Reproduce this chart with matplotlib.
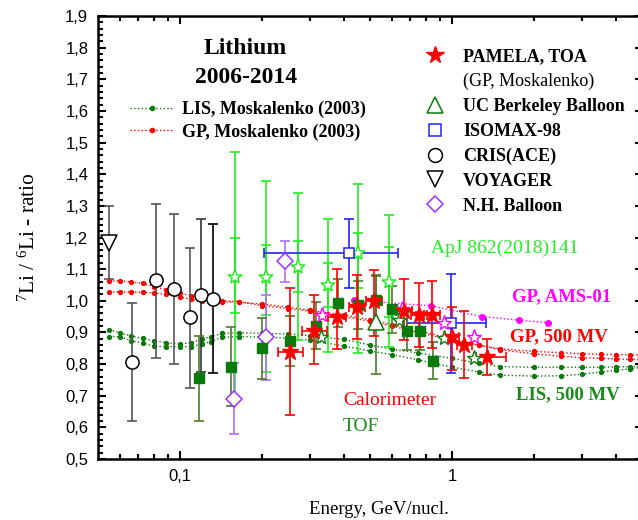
import matplotlib
matplotlib.use('Agg')
import matplotlib.pyplot as plt
from matplotlib.lines import Line2D
from matplotlib.ticker import FixedLocator, FuncFormatter, MultipleLocator, NullFormatter

plt.rcParams['font.family'] = ['Liberation Serif', 'DejaVu Serif']
plt.rcParams['mathtext.fontset'] = 'custom'
plt.rcParams['mathtext.rm'] = 'Liberation Serif'
plt.rcParams['mathtext.it'] = 'Liberation Serif:italic'

# --- model curves (Moskalenko 2003) ---
e_model = [0.055, 0.06, 0.066, 0.073, 0.08, 0.089, 0.1, 0.11, 0.12, 0.13, 0.143,
           0.165, 0.2, 0.25, 0.3, 0.4, 0.5, 0.6, 0.75, 1.0, 1.25, 1.5, 2.0, 2.5,
           3.0, 3.5, 4.0, 4.5, 5.0]
gp_upper = [1.063, 1.063, 1.060, 1.055, 1.045, 1.035, 1.025, 1.015, 1.008, 1.003, 1.000,
            0.997, 0.985, 0.975, 0.967, 0.950, 0.935, 0.920, 0.900, 0.875, 0.860, 0.848,
            0.840, 0.836, 0.833, 0.831, 0.830, 0.829, 0.829]
gp_lower = [1.028, 1.028, 1.028, 1.027, 1.025, 1.020, 1.012, 1.005, 1.000, 0.998, 0.997,
            0.995, 0.990, 0.980, 0.970, 0.955, 0.940, 0.925, 0.905, 0.880, 0.860, 0.845,
            0.832, 0.825, 0.820, 0.818, 0.816, 0.815, 0.814]
lis_upper = [0.908, 0.899, 0.889, 0.881, 0.874, 0.868, 0.863, 0.868, 0.878, 0.887, 0.897,
             0.899, 0.897, 0.895, 0.890, 0.878, 0.860, 0.847, 0.835, 0.818, 0.802, 0.792,
             0.790, 0.790, 0.790, 0.790, 0.791, 0.792, 0.793]
lis_lower = [0.887, 0.887, 0.874, 0.866, 0.857, 0.855, 0.855, 0.855, 0.863, 0.871, 0.885,
             0.887, 0.885, 0.882, 0.875, 0.857, 0.841, 0.830, 0.813, 0.790, 0.775, 0.765,
             0.762, 0.763, 0.768, 0.775, 0.780, 0.785, 0.790]
ams_e = [0.436, 0.835, 1.286, 1.753, 2.234]
ams_r = [1.002, 0.984, 0.950, 0.939, 0.931]

# --- PAMELA, calorimeter (red stars) ---
pam_e = [0.253, 0.311, 0.378, 0.448, 0.517, 0.666, 0.756, 0.844, 1.00, 1.107, 1.345]
pam_r = [0.839, 0.905, 0.949, 0.980, 0.998, 0.968, 0.955, 0.955, 0.886, 0.860, 0.823]
pam_dlo = [0.199, 0.105, 0.100, 0.100, 0.110, 0.092, 0.100, 0.105, 0.106, 0.105, 0.058]
pam_dhi = [0.201, 0.113, 0.150, 0.100, 0.100, 0.100, 0.102, 0.106, 0.094, 0.108, 0.056]
pam_elo = [0.025, 0.031, 0.030, 0.030, 0.035, 0.045, 0.050, 0.055, 0.060, 0.070, 0.120]
pam_ehi = [0.030, 0.034, 0.030, 0.030, 0.035, 0.045, 0.050, 0.055, 0.060, 0.070, 0.230]

# --- PAMELA, TOF (green squares) ---
tof_e = [0.1175, 0.1536, 0.2007, 0.253, 0.3153, 0.3787, 0.4485, 0.524, 0.6018, 0.683, 0.763, 0.846]
tof_r = [0.755, 0.792, 0.850, 0.874, 0.921, 0.992, 0.987, 1.003, 0.973, 0.904, 0.904, 0.811]
tof_d = [0.134, 0.126, 0.097, 0.079, 0.074, 0.076, 0.075, 0.078, 0.075, 0.060, 0.060, 0.059]

# --- PAMELA, GP AMS-01 (magenta open stars) ---
pgp_e = [0.331, 0.655, 0.935, 1.205]
pgp_r = [0.955, 0.975, 0.929, 0.885]

# --- ApJ 862(2018)141 (lime open stars) ---
apj_e = [0.1593, 0.2066, 0.270, 0.348, 0.452, 0.583]
apj_r = [1.076, 1.076, 1.106, 1.050, 1.150, 1.060]
apj_lo = [0.69, 0.776, 0.876, 0.839, 0.835, 0.855]
apj_hi = [1.469, 1.379, 1.340, 1.259, 1.369, 1.271]
apj_in_lo = [0.960, 0.955, 1.029, 0.981, 1.040, 0.950]
apj_in_hi = [1.200, 1.176, 1.189, 1.118, 1.213, 1.170]

# --- dark green open stars ---
dgs_e = [0.328, 0.639, 0.935, 1.195]
dgs_r = [0.887, 0.939, 0.881, 0.818]

# --- UC Berkeley Balloon ---
ucb_e = [0.524]
ucb_r = [0.933]
ucb_lo = [0.770]
ucb_hi = [1.077]

# --- ISOMAX-98 ---
iso_e = [0.416, 0.989]
iso_r = [1.150, 0.929]
iso_lo = [1.040, 0.773]
iso_hi = [1.259, 1.084]
iso_emin = [0.204, 0.680]
iso_emax = [0.630, 1.330]

# --- CRIS (ACE) ---
cris_e = [0.0664, 0.0813, 0.0953, 0.109, 0.1198, 0.1322]
cris_r = [0.807, 1.066, 1.036, 0.948, 1.018, 1.007]
cris_lo = [0.621, 0.818, 0.799, 0.725, 0.774, 0.771]
cris_hi = [0.992, 1.306, 1.273, 1.168, 1.258, 1.243]
cris_bar = ['#555555', '#555555', '#555555', '#555555', '#333333', '#000000']

# --- VOYAGER ---
voy_e = [0.0548]
voy_r = [1.182]
voy_lo = [1.068]
voy_hi = [1.300]

# --- N.H. Balloon ---
nh_e = [0.158, 0.2066, 0.243]
nh_r = [0.690, 0.887, 1.126]
nh_lo = [0.579, 0.750, 1.060]
nh_hi = [0.802, 1.018, 1.190]

RED = '#ff0000'
LIME = '#22ee22'
DGREEN = '#0a7a0a'
TOFBAR = '#4e7d2a'
BLUE = '#2323ff'
PURPLE = '#9933ff'
MAGENTA = '#ff00ff'


def asym(vals, lo, hi):
    return [[v - l for v, l in zip(vals, lo)], [h - v for v, h in zip(vals, hi)]]


fig = plt.figure(figsize=(6.38, 5.2), dpi=100)
ax = fig.add_axes([0.1536, 0.1173, 0.854, 0.8519])

# model curves
cs = dict(ls=':', lw=1.0, marker='o', ms=2.8, zorder=2)
ax.plot(e_model, gp_upper, color=RED, **cs)
ax.plot(e_model, gp_lower, color=RED, **cs)
ax.plot(e_model, lis_upper, color=DGREEN, **cs)
ax.plot(e_model, lis_lower, color=DGREEN, **cs)
ax.plot(ams_e, ams_r, color=MAGENTA, ls=':', lw=1.0, marker='o', ms=4, zorder=2)

eb = dict(capsize=3.5, elinewidth=1.2, capthick=1.2, ls='none')

# CRIS
for e, r, lo, hi, c in zip(cris_e, cris_r, cris_lo, cris_hi, cris_bar):
    ax.errorbar([e], [r], yerr=[[r - lo], [hi - r]], color=c, zorder=3, **eb)
ax.plot(cris_e, cris_r, 'o', ms=9.5, mfc='white', mec='black', mew=1.1, ls='none', zorder=6)

# VOYAGER
ax.errorbar(voy_e, voy_r, yerr=asym(voy_r, voy_lo, voy_hi), color='#555555', zorder=3, **eb)
ax.plot(voy_e, voy_r, 'v', ms=11.5, mfc='white', mec='black', mew=1.1, ls='none', zorder=6)

# ApJ lime stars: total and inner error bars
ax.errorbar(apj_e, apj_r, yerr=asym(apj_r, apj_lo, apj_hi), color=LIME, zorder=3, **eb)
ax.errorbar(apj_e, apj_r, yerr=asym(apj_r, apj_in_lo, apj_in_hi), color=LIME, zorder=3, **eb)
ax.plot(apj_e, apj_r, '*', ms=11, mfc='white', mec=LIME, mew=1.1, ls='none', zorder=6)

# N.H. Balloon
ax.errorbar(nh_e, nh_r, yerr=asym(nh_r, nh_lo, nh_hi), color='#b070ff', zorder=3, **eb)
ax.plot(nh_e, nh_r, 'D', ms=8, mfc='white', mec=PURPLE, mew=1.1, ls='none', zorder=6)

# ISOMAX
iso_xerr = [[e - a for e, a in zip(iso_e, iso_emin)], [b - e for e, b in zip(iso_e, iso_emax)]]
ax.errorbar(iso_e, iso_r, yerr=asym(iso_r, iso_lo, iso_hi), xerr=iso_xerr,
            color=BLUE, zorder=4, **eb)
ax.plot(iso_e, iso_r, 's', ms=7.5, mfc='white', mec=BLUE, mew=1.1, ls='none', zorder=6)

# UC Berkeley
ax.errorbar(ucb_e, ucb_r, yerr=asym(ucb_r, ucb_lo, ucb_hi), color=TOFBAR, zorder=3, **eb)
ax.plot(ucb_e, ucb_r, '^', ms=11, mfc='white', mec=DGREEN, mew=1.1, ls='none', zorder=6)

# TOF squares
ax.errorbar(tof_e, tof_r, yerr=tof_d, color=TOFBAR, zorder=4, **eb)
ax.plot(tof_e, tof_r, 's', ms=6.5, color=DGREEN, ls='none', zorder=7)

# PAMELA calorimeter stars
ax.errorbar(pam_e, pam_r, yerr=[pam_dlo, pam_dhi], xerr=[pam_elo, pam_ehi],
            color=RED, zorder=4, **eb)
ax.plot(pam_e, pam_r, '*', ms=12, color=RED, ls='none', zorder=8)

# open stars
ax.plot(pgp_e, pgp_r, '*', ms=11, mfc='white', mec=MAGENTA, mew=1.0, ls='none', zorder=7)
ax.plot(dgs_e, dgs_r, '*', ms=11, mfc='white', mec=DGREEN, mew=1.0, ls='none', zorder=7)

# axes
ax.set_xscale('log')
ax.set_xlim(0.05, 5)
ax.set_ylim(0.5, 1.9)
ax.xaxis.set_major_locator(FixedLocator([0.1, 1]))
ax.xaxis.set_major_formatter(FuncFormatter(lambda v, p: f'{v:g}'.replace('.', ',')))
ax.xaxis.set_minor_locator(FixedLocator([0.06, 0.07, 0.08, 0.09, 0.2, 0.3, 0.4, 0.5, 0.6,
                                         0.7, 0.8, 0.9, 2, 3, 4]))
ax.xaxis.set_minor_formatter(NullFormatter())
ax.yaxis.set_major_locator(MultipleLocator(0.1))
ax.yaxis.set_minor_locator(MultipleLocator(0.02))
ax.yaxis.set_major_formatter(FuncFormatter(lambda v, p: f'{v:.1f}'.replace('.', ',')))
ax.tick_params(which='both', direction='in', top=True, right=True, width=1.5)
ax.tick_params(which='major', length=6, labelsize=12, pad=7)
ax.tick_params(which='minor', length=3.5)
ax.tick_params(axis='y', which='minor', right=False)
for lab in ax.get_xticklabels() + ax.get_yticklabels():
    lab.set_family(['Liberation Sans', 'DejaVu Sans'])
for s in ax.spines.values():
    s.set_linewidth(1.8)

ax.set_ylabel('$^{7}$Li / $^{6}$Li - ratio', fontsize=15.5)
ax.yaxis.set_label_coords(-0.106, 0.5)
ax.set_xlabel('Energy, GeV/nucl.', fontsize=13.5)
ax.xaxis.set_label_coords(0.515, -0.095)

# title
ax.text(0.271, 0.927, 'Lithium', transform=ax.transAxes, ha='center', va='center',
        fontsize=17, fontweight='bold')
ax.text(0.271, 0.861, '2006-2014', transform=ax.transAxes, ha='center', va='center',
        fontsize=17, fontweight='bold')

# model legend
h_lis = Line2D([], [], color=DGREEN, ls=':', lw=1.0, marker='o', ms=3)
h_gp = Line2D([], [], color=RED, ls=':', lw=1.0, marker='o', ms=3)
leg1 = ax.legend([h_lis, h_gp], ['LIS, Moskalenko (2003)', 'GP, Moskalenko (2003)'],
                 loc='upper left', bbox_to_anchor=(0.0587, 0.808), frameon=False,
                 borderpad=0, borderaxespad=0, handlelength=2.4, handletextpad=0.5,
                 labelspacing=0.28, numpoints=1,
                 prop=dict(family='Liberation Serif', weight='bold', size=13))
ax.add_artist(leg1)

# data legend
hands = [
    Line2D([], [], ls='none', marker='*', ms=13, color=RED),
    Line2D([], [], ls='none'),
    Line2D([], [], ls='none', marker='^', ms=11, mfc='white', mec=DGREEN, mew=1.1),
    Line2D([], [], ls='none', marker='s', ms=8, mfc='white', mec=BLUE, mew=1.1),
    Line2D([], [], ls='none', marker='o', ms=10, mfc='white', mec='black', mew=1.1),
    Line2D([], [], ls='none', marker='v', ms=11, mfc='white', mec='black', mew=1.1),
    Line2D([], [], ls='none', marker='D', ms=8, mfc='white', mec=PURPLE, mew=1.1),
]
labels = ['PAMELA, TOA', '(GP, Moskalenko)', 'UC Berkeley Balloon', 'ISOMAX-98',
          'CRIS(ACE)', 'VOYAGER', 'N.H. Balloon']
leg2 = ax.legend(hands, labels, loc='upper left', bbox_to_anchor=(0.602, 0.927),
                 frameon=False, borderpad=0, borderaxespad=0, handlelength=1.0,
                 handletextpad=1.05, labelspacing=0.43, numpoints=1,
                 prop=dict(family='Liberation Serif', weight='bold', size=13))
leg2.get_texts()[1].set_fontweight('normal')

# annotations
ax.text(0.611, 0.475, 'ApJ 862(2018)141', transform=ax.transAxes, color=LIME,
        fontsize=14, va='center')
ax.text(0.759, 0.366, 'GP, AMS-01', transform=ax.transAxes, color=MAGENTA,
        fontsize=13.5, fontweight='bold', va='center')
ax.text(0.756, 0.275, 'GP, 500 MV', transform=ax.transAxes, color=RED,
        fontsize=13.5, fontweight='bold', va='center')
ax.text(0.768, 0.144, 'LIS, 500 MV', transform=ax.transAxes, color='#1a8a1a',
        fontsize=13.5, fontweight='bold', va='center')
ax.text(0.450, 0.133, 'Calorimeter', transform=ax.transAxes, color=RED,
        fontsize=14, va='center')
ax.text(0.450, 0.074, 'TOF', transform=ax.transAxes, color='#1a8a1a',
        fontsize=14, va='center')

fig.savefig('out.png', dpi=100)
